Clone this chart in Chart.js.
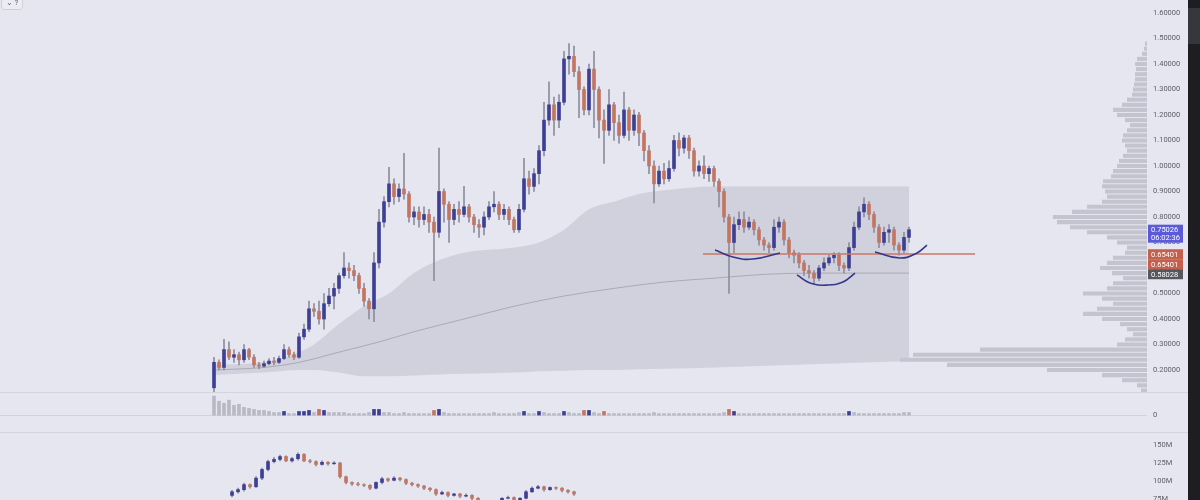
<!DOCTYPE html>
<html><head><meta charset="utf-8">
<script src="https://cdn.jsdelivr.net/npm/chart.js@4.4.1/dist/chart.umd.min.js"></script>
<style>
html,body{margin:0;padding:0;width:1200px;height:500px;overflow:hidden;background:#e6e6f0;font-family:Roboto,"Liberation Sans",sans-serif;}
.box{position:absolute;left:0;}
.sep{position:absolute;left:0;width:1188px;height:1px;background:#d4d4de;}
#dark{position:absolute;left:1188px;top:0;width:12px;height:500px;background:#1d1d22;}
#dark2{position:absolute;left:1188px;top:8px;width:12px;height:36px;background:#36363d;}
#btn{position:absolute;left:1px;top:-3px;width:20px;height:11px;border:1px solid #d0d0da;border-radius:3px;font-size:8px;color:#666;line-height:10px;text-align:center;background:#ececf4;}
</style></head><body>
<div class="box" style="top:0;width:1147px;height:392px"><canvas id="prof"></canvas></div>
<div class="box" style="top:0;width:1188px;height:392px"><canvas id="main"></canvas></div>
<div class="sep" style="top:392px"></div>
<div class="box" style="top:393px;width:1188px;height:39px"><canvas id="vol"></canvas></div>
<div class="sep" style="top:432px"></div>
<div class="box" style="top:433px;width:1188px;height:67px"><canvas id="lower"></canvas></div>
<div id="dark"></div><div id="dark2"></div>
<div id="btn">⌄ ?</div>
<script>
// ---------- DATA ----------
const priceTicks = [0.2,0.3,0.4,0.5,0.6,0.7,0.8,0.9,1.0,1.1,1.2,1.3,1.4,1.5,1.6];
const open = [.13,.23,.21,.28,.25,.26,.24,.28,.25,.22, .215,.225,.235,.23,.245,.28,.26,.25,.33,.36, .44,.43,.40,.46,.49,.52,.57,.60,.59,.57, .52,.47,.44,.62,.78,.86,.93,.88,.91,.89, .80,.82,.79,.81,.78,.74,.90,.85,.79,.83, .81,.84,.80,.77,.76,.80,.84,.85,.81,.83, .79,.75,.83,.95,.92,.97,1.06,1.18,1.24,1.18, 1.25,1.42,1.43,1.37,1.30,1.22,1.38,1.30,1.18,1.14, 1.24,1.17,1.12,1.22,1.14,1.20,1.13,1.06,1.00,.93, .98,.95,.99,1.10,1.07,1.11,1.06,.98,1.00,.97, .99,.94,.90,.80,.70,.77,.79,.76,.78,.75, .71,.69,.68,.76,.78,.71,.66,.65,.62,.59, .58,.56,.60,.62,.64,.65,.61,.60,.68,.76, .82,.85,.81,.76,.70,.74,.75,.69,.67,.72];
const close = [.23,.21,.28,.25,.26,.24,.28,.25,.22,.215, .225,.235,.23,.245,.28,.26,.25,.33,.36,.44, .43,.40,.46,.49,.52,.57,.60,.59,.57,.52, .47,.44,.62,.78,.86,.93,.88,.91,.89,.80, .82,.79,.81,.78,.74,.90,.85,.79,.83,.81, .84,.80,.77,.76,.80,.84,.85,.81,.83,.79, .75,.83,.95,.92,.97,1.06,1.18,1.24,1.18,1.25, 1.42,1.43,1.37,1.30,1.22,1.38,1.30,1.18,1.14,1.24, 1.17,1.12,1.22,1.14,1.20,1.13,1.06,1.00,.93,.98, .95,.99,1.10,1.07,1.11,1.06,.98,1.00,.97,.99, .94,.90,.80,.70,.77,.79,.76,.78,.75,.71, .69,.68,.76,.78,.71,.66,.65,.62,.59,.58, .56,.60,.62,.64,.65,.61,.60,.68,.76,.82, .85,.81,.76,.70,.74,.75,.69,.67,.72,.75];
const high = [.25,.24,.32,.31,.28,.27,.30,.285,.26,.23, .235,.245,.25,.255,.30,.29,.27,.345,.38,.47, .46,.47,.50,.52,.54,.58,.66,.62,.61,.58, .54,.48,.66,.83,.88,.995,.95,.93,1.05,.90, .84,.84,.84,.83,.80,1.07,.91,.86,.85,.86, .92,.85,.81,.79,.82,.86,.90,.86,.85,.84, .80,.85,1.03,.98,.99,1.08,1.25,1.33,1.27,1.28, 1.45,1.48,1.47,1.39,1.31,1.40,1.45,1.31,1.22,1.30, 1.25,1.20,1.29,1.23,1.22,1.21,1.14,1.08,1.02,1.00, 1.01,1.02,1.12,1.13,1.12,1.12,1.07,1.02,1.04,1.00, 1.00,.95,.91,.81,.80,.82,.82,.80,.79,.76, .72,.70,.79,.80,.79,.72,.67,.66,.63,.61, .59,.61,.64,.65,.66,.66,.62,.70,.78,.84, .875,.86,.82,.77,.76,.77,.76,.70,.74,.76];
const low = [.115,.20,.20,.24,.23,.22,.23,.24,.21,.205, .21,.22,.22,.225,.24,.25,.24,.245,.32,.35, .41,.38,.36,.45,.44,.50,.56,.56,.55,.50, .45,.40,.39,.60,.76,.84,.85,.86,.87,.78, .77,.76,.77,.74,.55,.72,.78,.70,.77,.78, .80,.78,.74,.72,.73,.79,.82,.79,.79,.77, .74,.74,.82,.89,.90,.93,1.04,1.16,1.12,1.15, 1.24,1.36,1.35,1.19,1.20,1.20,1.15,1.11,1.01,1.12, 1.10,1.09,1.11,1.10,1.12,1.08,1.02,.97,.855,.92, .93,.94,.98,1.04,1.05,1.03,.96,.96,.95,.94, .92,.84,.78,.50,.66,.75,.74,.75,.73,.69, .67,.66,.67,.74,.69,.64,.62,.60,.57,.56, .54,.55,.59,.61,.62,.59,.58,.59,.67,.75, .80,.79,.74,.68,.69,.70,.67,.65,.66,.70];
const volume = [19,14,12,15,10,11,8,7,6,5, 5,4,3,3,4,2,2,4,4,5, 3,6,5,3,3,3,3,2,2,2, 2,3,6,6,3,3,2,2,3,2, 2,2,2,2,5,6,3,2,2,2, 2,2,2,2,2,2,3,2,2,2, 2,3,4,2,2,4,3,2,2,2, 4,3,2,2,5,5,3,2,4,2, 2,2,2,2,2,2,2,2,3,2, 2,2,2,2,2,2,2,2,2,2, 2,2,3,6,4,2,2,2,2,2, 2,2,2,2,2,2,2,2,2,2, 2,2,2,2,2,2,2,4,3,2, 2,2,2,2,2,2,2,2,3,3];

// anchored band (upper / lower / basis), indexed by candle number
const bandX     = [0,   10,  17,  20,  25,  30,  35,  40,  45,  50,  60,  65,  70,  75,  80,  85,  90,  100, 139];
const bandUpper = [.22, .23, .27, .30, .38, .45, .50, .58, .63, .66, .68, .70, .75, .83, .86, .89, .905,.92, .92];
const bandLower = [.18, .19, .20, .20, .19, .175,.175,.178,.182,.185,.19, .195,.197,.20, .20, .203,.205,.21, .235];
const basisX    = [0,   10,  17,  25,  33,  40,  50,  60,  70,  80,  90,  100, 110, 120, 139];
const basis     = [.20, .21, .23, .27, .31, .35, .40, .45, .49, .52, .545,.56, .575,.58, .58];

// volume profile (price level -> size)
const profPrices = [0.12,0.14,0.16,0.18,0.20,0.22,0.24,0.26,0.28,0.30,0.32,0.34,0.36,0.38,0.40,0.42,0.44,0.46,0.48,0.50,0.52,0.54,0.56,0.58,0.60,0.62,0.64,0.66,0.68,0.70,0.72,0.74,0.76,0.78,0.80,0.82,0.84,0.86,0.88,0.90,0.92,0.94,0.96,0.98,1.00,1.02,1.04,1.06,1.08,1.10,1.12,1.14,1.16,1.18,1.20,1.22,1.24,1.26,1.28,1.30,1.32,1.34,1.36,1.38,1.40,1.42,1.44,1.46,1.48];
const profVol    = [6,10,25,45,100,200,247,234,167,30,22,14,20,27,45,64,50,34,45,64,40,34,24,35,47,40,34,22,20,30,40,60,77,90,94,75,60,45,40,42,45,44,36,34,30,28,24,20,22,25,24,20,17,22,30,34,25,20,15,14,13,12,12,11,12,10,5,3,2];

// drawn annotations
const supportLevel = 0.655;
const supportSpan = [97.8, 152.2];
const arc1X = [100.2,103.8,107.8,113.2], arc1Y = [0.671,0.643,0.635,0.659];
const arc2X = [116.6,119.2,122.6,125.8,128.2], arc2Y = [0.573,0.541,0.533,0.545,0.58];
const arc3X = [132.2,137.2,140.6,142.6], arc3Y = [0.663,0.639,0.659,0.69];

// price tags on the axis
const tagValues = [0.75026, 0.65401, 0.65401, 0.58028];
const tagTexts  = ['0.75026','0.65401','0.65401','0.58028'];
const tagSub    = ['06:02:36','','',''];

// lower pane
const lowTicks = [75,100,125,150];
const lowOpen  = [80,85,88,95,92,104,116,127,130,134,128,131,137,128,127,123,126,124,125,106,98,96,95,94,90,98,103,101,104,102,97,95,93,90,88,82,84,80,82,79,80,76,70,68,67,70,76,77,74,76,85,90,92,88,91,90,87,85];
const lowClose = [85,88,95,92,104,116,127,130,134,128,131,137,128,127,123,126,124,125,106,98,96,95,94,90,98,103,101,104,102,97,95,93,90,88,82,84,80,82,79,80,76,70,68,67,70,76,77,74,76,85,90,92,88,91,90,87,85,82];
const lowHigh  = [87,90,97,96,106,118,129,133,136,135,133,139,138,130,128,128,127,127,126,107,99,98,96,95,99,105,104,106,105,103,98,96,94,91,89,86,85,83,83,82,81,77,71,69,72,77,79,78,77,87,92,94,93,92,92,91,88,86];
const lowLow   = [78,83,86,90,91,102,114,125,128,127,126,129,127,125,121,122,122,123,104,96,94,93,92,88,89,96,99,100,100,95,93,91,88,86,80,81,78,79,77,78,74,68,66,65,66,69,75,72,73,75,84,89,86,87,88,85,83,80];

// ---------- STYLE ----------
const UP = '#3d3f94', DOWN = '#c27661', WICK = '#8d8d9e';
const FONT = {family:'Roboto', size:7.5};
const TICKCOL = '#5e5e68';
function axisFit(s){ s.width = 41; s.paddingTop = 0; s.paddingBottom = 0; }

Chart.defaults.animation = false;
Chart.defaults.plugins.legend.display = false;
Chart.defaults.plugins.tooltip.enabled = false;
Chart.defaults.responsive = true;
Chart.defaults.maintainAspectRatio = false;
Chart.defaults.layout.padding = 0;

const mainX = {type:'linear', display:false, offset:false, min:-42.8, max:186.6};
const priceY = {type:'linear', position:'right', min:0.1137, max:1.651,
  afterBuildTicks: s => { s.ticks = priceTicks.map(v => ({value:v})); },
  afterFit: axisFit,
  ticks:{padding:6, color:TICKCOL, font:FONT, callback: v => Number(v).toFixed(5)},
  grid:{display:false, drawTicks:false}, border:{display:false}};

// volume profile (behind)
new Chart(document.getElementById('prof'), {
  type:'bar',
  data:{datasets:[{data: profPrices.map((p,k)=>({y:p, x:profVol[k]})), indexAxis:'y',
    backgroundColor:'#c4c4d0', barPercentage:0.8, categoryPercentage:1}]},
  options:{indexAxis:'y',
    scales:{y:{type:'linear', display:false, offset:false, min:0.1137, max:1.651},
            x:{type:'linear', display:false, offset:false, reverse:true, min:0, max:1147}}}
});

const idx = open.map((_, i) => i);
const tagPlugin = {
  id:'tags',
  afterDraw(chart){
    const ctx = chart.ctx, y = chart.scales.y;
    const colors = ['#5b5bd9','#c4604b','#c4604b','#56565e'];
    let prevBottom = -1e9;
    ctx.save();
    ctx.font = '7.5px Roboto';
    ctx.textBaseline = 'middle';
    tagValues.forEach((v, k) => {
      const h = tagSub[k] ? 18 : 10;
      let top = y.getPixelForValue(v) - 5;
      if (top < prevBottom) top = prevBottom;
      ctx.fillStyle = colors[k];
      ctx.fillRect(1148, top, 35, h);
      ctx.fillStyle = '#ffffff';
      ctx.fillText(tagTexts[k], 1151, top + 5.5);
      if (tagSub[k]) ctx.fillText(tagSub[k], 1151, top + 13.5);
      prevBottom = top + h;
    });
    ctx.restore();
  }
};

const arcStyle = {type:'line', borderColor:'#35388a', borderWidth:1.6, pointRadius:0, tension:0.45, fill:false, order:0};
new Chart(document.getElementById('main'), {
  type:'bar',
  data:{datasets:[
    {type:'line', data: bandX.map((x,k)=>({x, y:bandUpper[k]})), borderWidth:0, borderColor:'rgba(0,0,0,0)', pointRadius:0,
     fill:'+1', backgroundColor:'rgba(196,196,212,0.62)', cubicInterpolationMode:'monotone', order:20},
    {type:'line', data: bandX.map((x,k)=>({x, y:bandLower[k]})), borderWidth:0, borderColor:'rgba(0,0,0,0)', pointRadius:0,
     fill:false, cubicInterpolationMode:'monotone', order:21},
    {type:'line', data: basisX.map((x,k)=>({x, y:basis[k]})), borderWidth:1, borderColor:'#a9a9b6', pointRadius:0,
     fill:false, cubicInterpolationMode:'monotone', order:19},
    {type:'bar', data: idx.map(i=>({x:i, y:[low[i], high[i]]})), backgroundColor:WICK, barThickness:1, grouped:false, order:3},
    {type:'bar', data: idx.map(i=>({x:i, y:[open[i], close[i]]})),
     backgroundColor: idx.map(i => close[i] >= open[i] ? UP : DOWN), barThickness:3, grouped:false, order:2},
    {type:'line', data: supportSpan.map(x=>({x, y:supportLevel})), borderColor:'#c9786a', borderWidth:1.5, pointRadius:0, fill:false, order:1},
    Object.assign({data: arc1X.map((x,k)=>({x, y:arc1Y[k]}))}, arcStyle),
    Object.assign({data: arc2X.map((x,k)=>({x, y:arc2Y[k]}))}, arcStyle),
    Object.assign({data: arc3X.map((x,k)=>({x, y:arc3Y[k]}))}, arcStyle)
  ]},
  options:{scales:{x:mainX, y:priceY}},
  plugins:[tagPlugin]
});

// volume pane
new Chart(document.getElementById('vol'), {
  type:'bar',
  data:{datasets:[{data: idx.map(i=>({x:i, y:volume[i]})),
    backgroundColor: idx.map(i => (i < 12 || volume[i] < 4) ? 'rgba(165,165,180,0.7)' : (close[i] >= open[i] ? UP : DOWN)),
    barThickness:3}]},
  options:{scales:{
    x:mainX,
    y:{type:'linear', position:'right', min:-16, max:22,
       afterBuildTicks: s => { s.ticks = [{value:0}]; }, afterFit: axisFit,
       ticks:{padding:6, color:TICKCOL, font:FONT},
       grid:{display:true, drawTicks:false, color:'#d2d2dc'}, border:{display:false}}}}
});

// lower pane
const lidx = lowOpen.map((_, j) => j);
new Chart(document.getElementById('lower'), {
  type:'bar',
  data:{datasets:[
    {data: lidx.map(j=>({x:j, y:[lowLow[j], lowHigh[j]]})), backgroundColor:WICK, barThickness:1, grouped:false, order:2},
    {data: lidx.map(j=>({x:j, y:[lowOpen[j], lowClose[j]]})),
     backgroundColor: lidx.map(j => lowClose[j] >= lowOpen[j] ? UP : DOWN), barThickness:3, grouped:false, order:1}
  ]},
  options:{scales:{
    x:{type:'linear', display:false, offset:false, min:-38.67, max:152.5},
    y:{type:'linear', position:'right', min:73.6, max:166.7,
       afterBuildTicks: s => { s.ticks = lowTicks.map(v => ({value:v})); }, afterFit: axisFit,
       ticks:{padding:6, color:TICKCOL, font:FONT, callback: v => v + 'M'},
       grid:{display:false, drawTicks:false}, border:{display:false}}}}
});
</script>
</body></html>
